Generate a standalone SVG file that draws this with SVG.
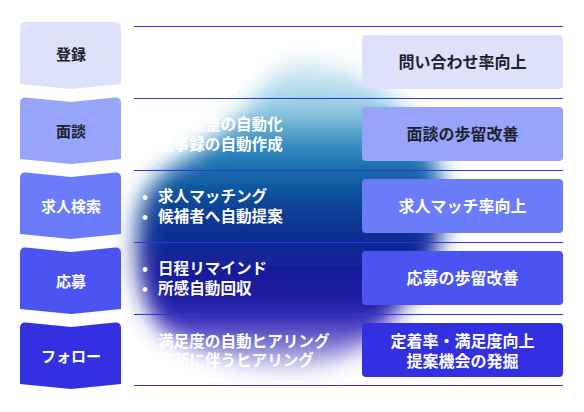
<svg xmlns="http://www.w3.org/2000/svg" width="584" height="412" viewBox="0 0 584 412">
<style>
text{font-family:"Noto Sans CJK JP","Noto Sans",sans-serif;font-weight:700}
.lab{font-size:15px;text-anchor:middle}
.res{font-size:16px;text-anchor:middle}
.bul{font-size:15.6px;fill:#ffffff}
.dk{fill:#1f2030}
.wt{fill:#ffffff}
.sep{stroke:#3434df;stroke-width:1;fill:none}
.c1{fill:#dde1fc}.c2{fill:#96a5fa}.c3{fill:#6b7cf8}.c4{fill:#4b54f0}.c5{fill:#3230e0}
</style>
<defs>
<linearGradient id="blobGrad" gradientUnits="userSpaceOnUse" x1="0" y1="55" x2="0" y2="390">
<stop offset="0" stop-color="#eef7fa"/>
<stop offset="0.16" stop-color="#92cce0"/>
<stop offset="0.28" stop-color="#2a84bc"/>
<stop offset="0.37" stop-color="#1260a6"/>
<stop offset="0.47" stop-color="#0b3c93"/>
<stop offset="0.62" stop-color="#141f97"/>
<stop offset="0.73" stop-color="#1e1aa0"/>
<stop offset="0.8" stop-color="#3a2ec0"/>
<stop offset="0.88" stop-color="#9088d8"/>
<stop offset="0.96" stop-color="#ecebf8"/>
<stop offset="1" stop-color="#fafafe"/>
</linearGradient>
<filter id="blur" x="-30%" y="-30%" width="160%" height="160%"><feGaussianBlur stdDeviation="11"/></filter>
</defs>
<rect width="584" height="412" fill="#ffffff"/>
<g id="glow">
<path d="M300,58 C345,62 390,92 418,128 C442,160 448,205 440,240 C430,275 405,300 385,325 C365,350 330,368 290,368 C250,368 200,355 165,332 C142,310 134,265 138,225 C140,200 150,180 175,165 C210,145 240,120 262,90 C275,70 285,58 300,58 Z" fill="url(#blobGrad)" filter="url(#blur)"/>
</g>
<g id="connectors">
<line class="sep" x1="134" y1="26.5" x2="563" y2="26.5"/>
<line class="sep" x1="134" y1="98.5" x2="563" y2="98.5"/>
<line class="sep" x1="134" y1="170.5" x2="563" y2="170.5"/>
<line class="sep" x1="134" y1="242.5" x2="563" y2="242.5"/>
<line class="sep" x1="134" y1="314.5" x2="563" y2="314.5"/>
<line class="sep" x1="134" y1="385.5" x2="563" y2="385.5"/>
</g>
<g id="step1">
<path class="c1" d="M26,22 H115 Q121,22 121,28 V84 L71,89 L20,84 V28 Q20,22 26,22 Z"/>
<text class="lab dk" x="71" y="60">登録</text>
</g>
<g id="step2">
<path class="c2" d="M20,103 Q20,97 26,97.5 L71,102 L115,97.5 Q121,97 121,103 V159 L71,164 L20,159 Z"/>
<text class="lab dk" x="71" y="137">面談</text>
</g>
<g id="step3">
<path class="c3" d="M20,178 Q20,172 26,172.5 L71,177 L115,172.5 Q121,172 121,178 V234 L71,239 L20,234 Z"/>
<text class="lab wt" x="71" y="212">求人検索</text>
</g>
<g id="step4">
<path class="c4" d="M20,253 Q20,247 26,247.5 L71,252 L115,247.5 Q121,247 121,253 V309 L71,314 L20,309 Z"/>
<text class="lab wt" x="71" y="287">応募</text>
</g>
<g id="step5">
<path class="c5" d="M20,328 Q20,322 26,322.5 L71,327 L115,322.5 Q121,322 121,328 V384 L71,389 L20,384 Z"/>
<text class="lab wt" x="71" y="362">フォロー</text>
</g>
<g id="features2">
<text class="bul" x="142" y="130">•</text><text class="bul" x="158" y="130">日程調整の自動化</text>
<text class="bul" x="142" y="150">•</text><text class="bul" x="158" y="150">議事録の自動作成</text>
</g>
<g id="features3">
<text class="bul" x="142" y="202">•</text><text class="bul" x="158" y="202">求人マッチング</text>
<text class="bul" x="142" y="222">•</text><text class="bul" x="158" y="222">候補者へ自動提案</text>
</g>
<g id="features4">
<text class="bul" x="142" y="274">•</text><text class="bul" x="158" y="274">日程リマインド</text>
<text class="bul" x="142" y="294">•</text><text class="bul" x="158" y="294">所感自動回収</text>
</g>
<g id="features5">
<text class="bul" x="142" y="347">•</text><text class="bul" x="158" y="347">満足度の自動ヒアリング</text>
<text class="bul" x="142" y="366">•</text><text class="bul" x="158" y="366">更新に伴うヒアリング</text>
</g>
<g id="result1">
<rect class="c1" x="362" y="35" width="201" height="54" rx="4"/>
<text class="res dk" x="462.5" y="67.5">問い合わせ率向上</text>
</g>
<g id="result2">
<rect class="c2" x="362" y="107" width="201" height="54" rx="4"/>
<text class="res dk" x="462.5" y="139.5">面談の歩留改善</text>
</g>
<g id="result3">
<rect class="c3" x="362" y="179" width="201" height="54" rx="4"/>
<text class="res wt" x="462.5" y="211.5">求人マッチ率向上</text>
</g>
<g id="result4">
<rect class="c4" x="362" y="251" width="201" height="54" rx="4"/>
<text class="res wt" x="462.5" y="283.5">応募の歩留改善</text>
</g>
<g id="result5">
<rect class="c5" x="362" y="323" width="201" height="54" rx="4"/>
<text class="res wt" x="462.5" y="347">定着率・満足度向上</text>
<text class="res wt" x="462.5" y="366.5">提案機会の発掘</text>
</g>
</svg>
